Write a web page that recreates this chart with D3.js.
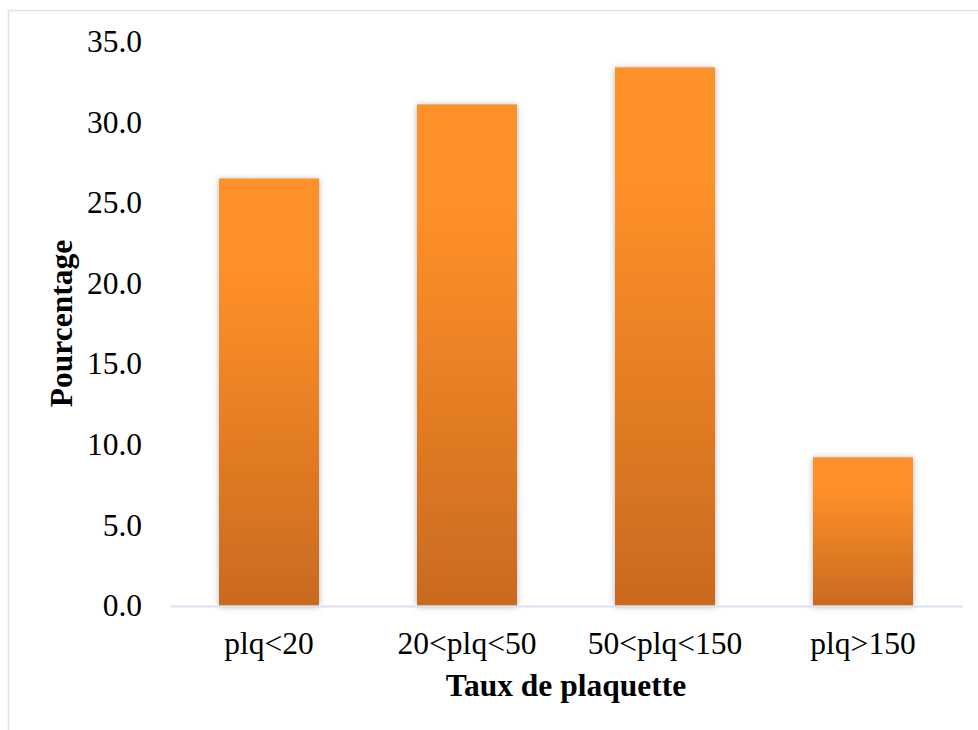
<!DOCTYPE html>
<html>
<head>
<meta charset="utf-8">
<script src="https://cdn.jsdelivr.net/npm/d3@7/dist/d3.min.js"></script>
<style>
  html, body { margin: 0; padding: 0; background: #fff; }
  svg { display: block; }
  text { font-family: "Liberation Serif", "Times New Roman", serif; fill: #000; }
</style>
</head>
<body>
<svg id="chart" width="978" height="730"></svg>
<script>
// Platelet-count categories and share of patients (%)
const categories = ["plq<20", "20<plq<50", "50<plq<150", "plq>150"];
const values = [26.5, 31.1, 33.4, 9.2];
const yTicks = [0, 5, 10, 15, 20, 25, 30, 35];
const xTitle = "Taux de plaquette";
const yTitle = "Pourcentage";

const svg = d3.select("#chart");
const W = 978, H = 730;
const plot = { left: 170, right: 962, top: 41.5, bottom: 605.5 };
const fontSize = "31.5px";

// Outer frame
svg.append("rect")
  .attr("x", 8.5).attr("y", 10.5)
  .attr("width", W + 20).attr("height", H + 20)
  .attr("fill", "#fff")
  .attr("stroke", "#dae3f3").attr("stroke-width", 1.5);

const defs = svg.append("defs");
const grad = defs.append("linearGradient")
  .attr("id", "barFill")
  .attr("x1", 0).attr("y1", 0).attr("x2", 0).attr("y2", 1);
grad.append("stop").attr("offset", "0%").attr("stop-color", "#ff9129");
grad.append("stop").attr("offset", "22%").attr("stop-color", "#fe9029");
grad.append("stop").attr("offset", "100%").attr("stop-color", "#c96a1f");

const shadow = defs.append("filter")
  .attr("id", "barShadow")
  .attr("x", "-20%").attr("y", "-10%").attr("width", "140%").attr("height", "120%");
shadow.append("feDropShadow")
  .attr("dx", 0).attr("dy", 1)
  .attr("stdDeviation", 3)
  .attr("flood-color", "#000").attr("flood-opacity", 0.3);

const x = d3.scaleBand()
  .domain(categories)
  .range([plot.left, plot.right])
  .paddingInner(0.495)
  .paddingOuter(0.2475);

const y = d3.scaleLinear()
  .domain([0, 35])
  .range([plot.bottom, plot.top]);

// Bars
svg.append("g")
  .selectAll("rect")
  .data(values)
  .join("rect")
  .attr("x", (d, i) => x(categories[i]))
  .attr("y", d => y(d))
  .attr("width", x.bandwidth())
  .attr("height", d => y(0) - y(d))
  .attr("fill", "url(#barFill)")
  .attr("filter", "url(#barShadow)");

// Baseline (category axis)
const xAxis = svg.append("g")
  .attr("transform", `translate(0,${y(0) + 0.5})`)
  .call(d3.axisBottom(x).tickSize(0).tickPadding(26));
xAxis.select(".domain").attr("stroke", "#d9e2f1").attr("stroke-width", 2);
xAxis.selectAll("text")
  .style("font-family", "'Liberation Serif', 'Times New Roman', serif")
  .style("font-size", fontSize)
  .attr("fill", "#000");

// Value axis: labels only
const yAxis = svg.append("g")
  .attr("transform", `translate(${plot.left},0)`)
  .call(d3.axisLeft(y).tickValues(yTicks).tickFormat(d3.format(".1f")).tickSize(0).tickPadding(28));
yAxis.select(".domain").remove();
yAxis.selectAll("text")
  .style("font-family", "'Liberation Serif', 'Times New Roman', serif")
  .style("font-size", fontSize)
  .attr("fill", "#000");

// Axis titles
svg.append("text")
  .attr("x", (plot.left + plot.right) / 2)
  .attr("y", 696)
  .attr("text-anchor", "middle")
  .style("font-size", fontSize)
  .style("font-weight", "bold")
  .text(xTitle);

svg.append("text")
  .attr("transform", `translate(72,${(plot.top + plot.bottom) / 2}) rotate(-90)`)
  .attr("text-anchor", "middle")
  .style("font-size", fontSize)
  .style("font-weight", "bold")
  .text(yTitle);
</script>
</body>
</html>
